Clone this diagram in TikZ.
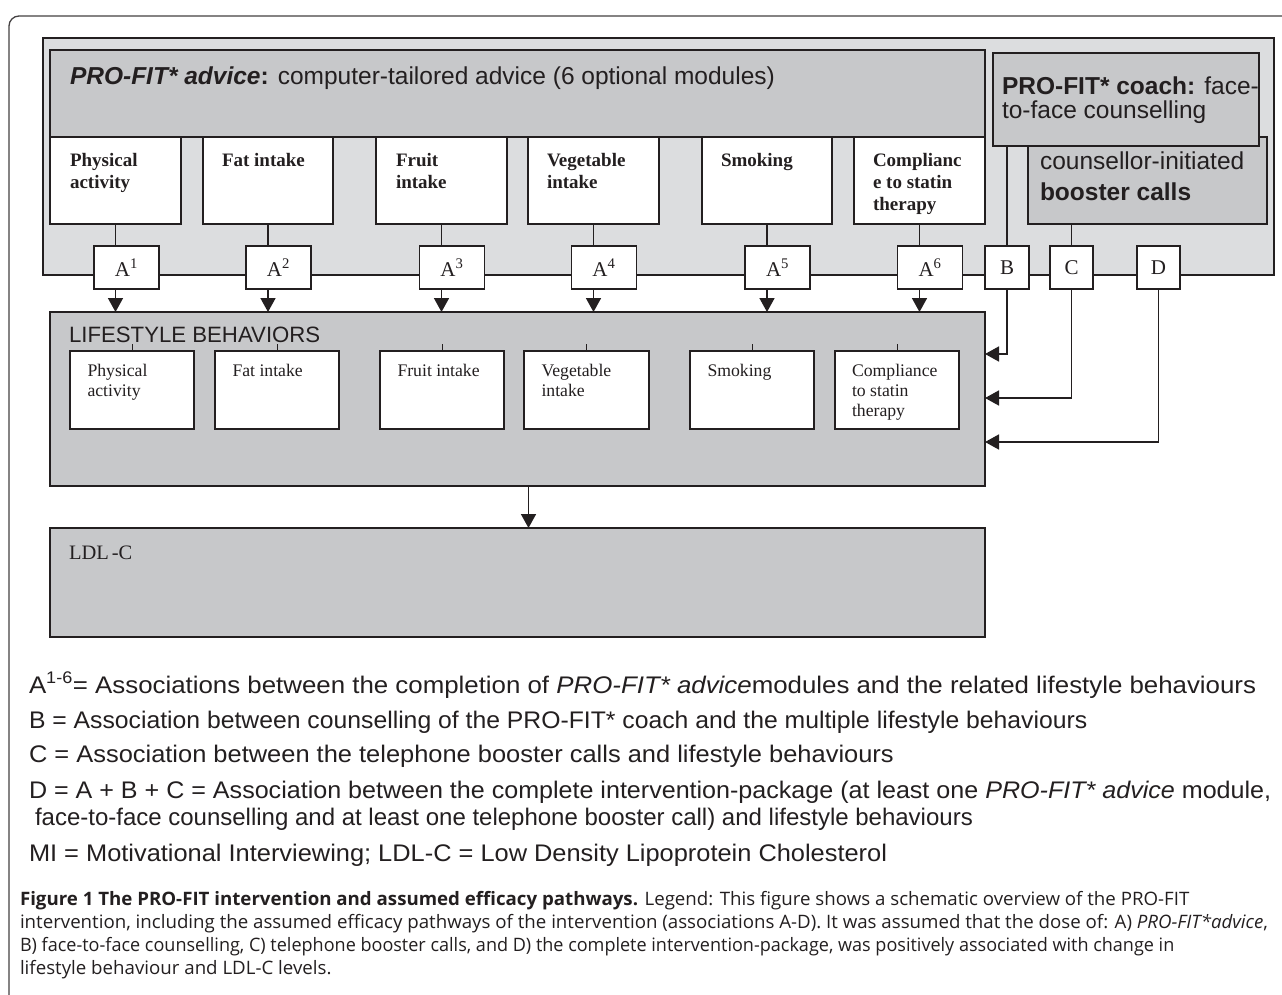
\documentclass[tikz,border=0pt]{standalone}
\usepackage{fontspec}
\setmainfont{Liberation Serif}
\setsansfont{Liberation Sans}
\newfontfamily\capfont{Open Sans}
\usetikzlibrary{arrows.meta}
\definecolor{lightg}{HTML}{DCDDDF}
\definecolor{darkg}{HTML}{C7C8CA}
\definecolor{ink}{HTML}{231F20}
\newcommand{\toplines}[2]{\parbox[t]{#1}{\raggedright #2}}
\newcommand{\hstretch}[2]{\scalebox{#1}[1]{#2}}
\begin{document}
\begin{tikzpicture}[x=1pt,y=-1pt,
  every node/.style={text=ink, inner sep=0pt, outer sep=0pt},
  box/.style={draw=ink, line width=1.4pt, anchor=north west, inner sep=0pt},
  lbox/.style={box, fill=lightg},
  dbox/.style={box, fill=darkg},
  wbox/.style={box, fill=white},
  abox/.style={box, fill=white, minimum height=43pt, font=\fontsize{21}{24}\selectfont},
  conn/.style={draw=ink, line width=1.6pt},
  tick/.style={draw=ink, line width=1pt},
  arr/.style={conn, -{Triangle[length=14pt,width=15pt]}},
  modt/.style={anchor=base west, font=\bfseries\fontsize{19}{22}\selectfont},
  innt/.style={anchor=base west, font=\fontsize{17.7}{20}\selectfont},
  topt/.style={anchor=base west, font=\sffamily\fontsize{24.5}{24}\selectfont},
  legt/.style={anchor=base west, font=\sffamily\fontsize{24}{28}\selectfont},
  capt/.style={anchor=base west, font=\capfont\fontsize{18.5}{23}\selectfont}
]
\useasboundingbox (0,0) rectangle (1282,994);
\fill[white] (0,0) rectangle (1282,994);
\begin{scope}
\clip (0,0) rectangle (1282,994);
\draw[ink!85, line width=1.3pt, rounded corners=10pt] (9,1100) -- (9,16) -- (1400,16);
\end{scope}

% outer intervention area
\node[lbox, minimum width=1231pt, minimum height=237pt] (outer) at (43,38) {};
\node[dbox, minimum width=935pt, minimum height=87pt] (advice) at (50,50) {};
\node[topt] (advicet) at (70,84) {{\bfseries\itshape PRO-FIT* advice}\textbf{:} computer-tailored advice (6 optional modules)};
\node[dbox, minimum width=239pt, minimum height=87pt] (boost) at (1028,137) {};
\node[dbox, minimum width=266pt, minimum height=93pt] (coach) at (993,53) {};
\node[topt] (coacht) at (1002,94) {\toplines{260pt}{\textbf{PRO-FIT* coach:} face-\\to-face counselling}};
\node[topt] (boostt) at (1040,169) {\toplines{230pt}{\fontsize{24.5}{31}\selectfont counsellor-initiated\\ \textbf{booster calls}}};

% module boxes
\node[wbox, minimum width=131pt, minimum height=87pt] (m1) at (50,137) {};
\node[wbox, minimum width=130pt, minimum height=87pt] (m2) at (203,137) {};
\node[wbox, minimum width=131pt, minimum height=87pt] (m3) at (376,137) {};
\node[wbox, minimum width=131pt, minimum height=87pt] (m4) at (528,137) {};
\node[wbox, minimum width=130pt, minimum height=87pt] (m5) at (702,137) {};
\node[wbox, minimum width=131pt, minimum height=87pt] (m6) at (854,137) {};
\node[modt] (m1t) at (70,166) {\toplines{110pt}{Physical\\activity}};
\node[modt] (m2t) at (222,166) {\toplines{110pt}{Fat intake}};
\node[modt] (m3t) at (396,166) {\toplines{110pt}{Fruit\\intake}};
\node[modt] (m4t) at (547,166) {\toplines{110pt}{Vegetable\\intake}};
\node[modt] (m5t) at (721,166) {\toplines{110pt}{Smoking}};
\node[modt] (m6t) at (873,166) {\toplines{110pt}{Complianc\\e to statin\\therapy}};

% association boxes
\node[abox, minimum width=65pt] (a1) at (94,246) {A\textsuperscript{1}};
\node[abox, minimum width=65pt] (a2) at (246,246) {A\textsuperscript{2}};
\node[abox, minimum width=65pt] (a3) at (419.5,246) {A\textsuperscript{3}};
\node[abox, minimum width=65pt] (a4) at (571.5,246) {A\textsuperscript{4}};
\node[abox, minimum width=65pt] (a5) at (745,246) {A\textsuperscript{5}};
\node[abox, minimum width=65pt] (a6) at (897.5,246) {A\textsuperscript{6}};
\node[abox, minimum width=44pt] (b) at (985,246) {B};
\node[abox, minimum width=43pt] (c) at (1050,246) {C};
\node[abox, minimum width=43pt] (d) at (1137,246) {D};

% lifestyle behaviours
\node[dbox, minimum width=935pt, minimum height=174pt] (lb) at (50,312) {};
\node[anchor=base west, font=\sffamily\fontsize{22.2}{24}\selectfont] (lbt) at (69,342) {LIFESTYLE BEHAVIORS};
\node[wbox, minimum width=124pt, minimum height=78pt] (i1) at (70,351) {};
\node[wbox, minimum width=124pt, minimum height=78pt] (i2) at (215,351) {};
\node[wbox, minimum width=124pt, minimum height=78pt] (i3) at (380,351) {};
\node[wbox, minimum width=125pt, minimum height=78pt] (i4) at (524,351) {};
\node[wbox, minimum width=124pt, minimum height=78pt] (i5) at (690,351) {};
\node[wbox, minimum width=124pt, minimum height=78pt] (i6) at (835,351) {};
\node[innt] (i1t) at (87.5,376) {\toplines{105pt}{Physical\\activity}};
\node[innt] (i2t) at (232.5,376) {\toplines{105pt}{Fat intake}};
\node[innt] (i3t) at (397.5,376) {\toplines{105pt}{Fruit intake}};
\node[innt] (i4t) at (541.5,376) {\toplines{105pt}{Vegetable\\intake}};
\node[innt] (i5t) at (707.5,376) {\toplines{105pt}{Smoking}};
\node[innt] (i6t) at (852,376) {\toplines{105pt}{Compliance\\to statin\\therapy}};
\foreach \i in {i1,i2,i3,i4,i5,i6} \draw[tick] (\i.north) -- ++(0,-7);

% LDL-C
\node[dbox, minimum width=935pt, minimum height=109pt] (ldl) at (50,528) {};
\node[anchor=base west, font=\fontsize{20.5}{22}\selectfont] (ldlt) at (69,559) {LDL\kern3pt-C};

% connectors
\foreach \m/\a in {m1/a1,m2/a2,m3/a3,m4/a4,m5/a5,m6/a6} {
  \draw[conn] (\m.south) -- (\m.south |- \a.north);
  \draw[arr] (\m.south |- \a.south) -- (\m.south |- lb.north);
}
\draw[conn] (b.north |- coach.south) -- (b.north);
\draw[conn] (c.north |- boost.south) -- (c.north);
\draw[arr] (b.south) |- ([yshift=-42pt]lb.north east);
\draw[arr] (c.south) |- ([yshift=-86pt]lb.north east);
\draw[arr] (d.south) |- ([yshift=-130pt]lb.north east);
\draw[arr] ([xshift=11pt]lb.south) -- ([xshift=11pt]ldl.north);

% legend
\node[legt] (l1) at (29,693) {\hstretch{1.077}{A\textsuperscript{1-6}= Associations between the completion of \textit{PRO-FIT* advice}modules and the related lifestyle behaviours}};
\node[legt] (l2) at (29,728) {\hstretch{1.031}{B = Association between counselling of the PRO-FIT* coach and the multiple lifestyle behaviours}};
\node[legt] (l3) at (29,762) {\hstretch{1.06}{C = Association between the telephone booster calls and lifestyle behaviours}};
\node[legt] (l4) at (29,798) {\hstretch{1.045}{D = A + B + C = Association between the complete intervention-package (at least one \textit{PRO-FIT* advice} module,}};
\node[legt] (l5) at (35,825) {\hstretch{1.0}{face-to-face counselling and at least one telephone booster call) and lifestyle behaviours}};
\node[legt] (l6) at (29,861) {\hstretch{1.058}{MI = Motivational Interviewing; LDL-C = Low Density Lipoprotein Cholesterol}};

% caption
\node[capt] (c1) at (20,905) {\hstretch{1.01}{\textbf{Figure 1 The PRO-FIT intervention and assumed efficacy pathways.} Legend: This figure shows a schematic overview of the PRO-FIT}};
\node[capt] (c2) at (20,928) {\hstretch{1.01}{intervention, including the assumed efficacy pathways of the intervention (associations A-D). It was assumed that the dose of: A) \textit{PRO-FIT*advice},}};
\node[capt] (c3) at (20,951) {\hstretch{0.975}{B) face-to-face counselling, C) telephone booster calls, and D) the complete intervention-package, was positively associated with change in}};
\node[capt] (c4) at (20,974) {\hstretch{1.01}{lifestyle behaviour and LDL-C levels.}};
\end{tikzpicture}
\end{document}
